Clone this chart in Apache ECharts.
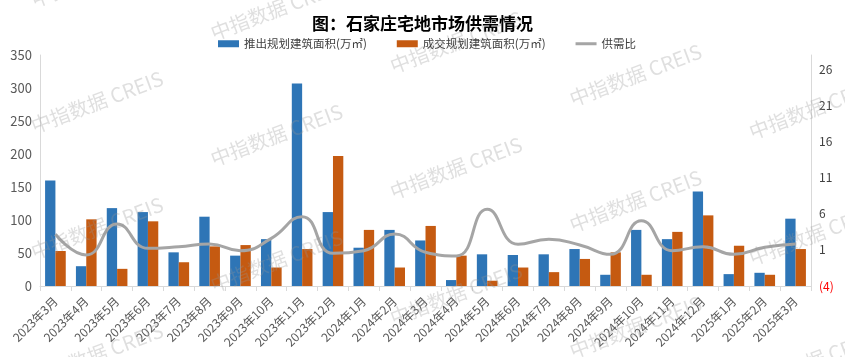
<!DOCTYPE html>
<html>
<head>
<meta charset="utf-8">
<script src="https://cdn.jsdelivr.net/npm/echarts@6/dist/echarts.min.js"></script>
<style>
html,body{margin:0;padding:0;background:#fff;}
#c{width:845px;height:357px;}
</style>
</head>
<body>
<div id="c"></div>
<script>
const categories = ['2023年3月','2023年4月','2023年5月','2023年6月','2023年7月','2023年8月','2023年9月','2023年10月','2023年11月','2023年12月','2024年1月','2024年2月','2024年3月','2024年4月','2024年5月','2024年6月','2024年7月','2024年8月','2024年9月','2024年10月','2024年11月','2024年12月','2025年1月','2025年2月','2025年3月'];
const supply = [160, 30, 118, 112, 51, 105, 46, 71, 307, 112, 58, 85, 69, 9, 48, 47, 48, 56, 17, 85, 71, 143, 18, 20, 102];
const deal = [53, 101, 26, 98, 36, 60, 62, 28, 56, 197, 85, 28, 91, 46, 8, 28, 21, 41, 51, 17, 82, 107, 61, 17, 56];
const ratio = [3.16, 0.29, 4.59, 1.22, 1.44, 1.82, 0.89, 2.6, 5.6, 0.53, 0.89, 3.2, 0.67, 0.16, 6.62, 1.78, 2.47, 1.68, 0.39, 5.04, 0.89, 1.44, 0.39, 1.36, 1.82];
const leftTicks = {min: 0, max: 350, interval: 50};
const rightTicks = {min: -4, max: 28, interval: 5};
const seriesNames = ['推出规划建筑面积(万㎡)', '成交规划建筑面积(万㎡)', '供需比'];
const titleText = '图：石家庄宅地市场供需情况';
const watermarkText = '中指数据 CREIS';

const FONT = '"Noto Sans CJK SC", "Noto Sans", sans-serif';

// watermarks
const marks = [];
for (let c = 0; c < 5; c++) {
  for (let r = -1; r < 3; r++) {
    const x = 97 + 179.5 * c;
    const y = 102 + 33 * c + 126 * r;
    if (y < -40 || y > 400) continue;
    marks.push({
      type: 'text', x: x, y: y, rotation: 0.36, z: 100, silent: true,
      style: {text: watermarkText, fontSize: 20, fontFamily: FONT, fill: 'rgba(150,150,150,0.3)', align: 'center', verticalAlign: 'middle'}
    });
  }
}

const chart = echarts.init(document.getElementById('c'));
chart.setOption({
  animation: false,
  backgroundColor: '#fff',
  textStyle: {fontFamily: FONT},
  title: {
    text: titleText, left: 307, top: 10, z: 200,
    textStyle: {fontSize: 17, fontWeight: 'bold', color: '#000', fontFamily: FONT}
  },
  legend: {
    left: 213, top: 33, itemWidth: 21, itemHeight: 7, itemGap: 30, z: 200, symbolKeepAspect: true,
    textStyle: {fontSize: 11.5, color: '#404040', fontFamily: FONT},
    data: [
      {name: seriesNames[0], icon: 'rect'},
      {name: seriesNames[1], icon: 'rect'},
      {name: seriesNames[2], icon: 'path://M0,0 H21 V3 H0 Z', itemStyle: {color: '#A5A5A5'}}
    ]
  },
  graphic: marks,
  grid: {left: 40, right: 34, top: 55, bottom: 71, containLabel: false},
  xAxis: {
    type: 'category', data: categories,
    axisLine: {lineStyle: {color: '#d9d9d9'}},
    axisTick: {show: true, alignWithLabel: false, length: 5, lineStyle: {color: '#d9d9d9'}},
    axisLabel: {rotate: 45, fontSize: 12, color: '#595959', margin: 13, interval: 0, fontFamily: FONT}
  },
  yAxis: [
    {
      type: 'value', min: leftTicks.min, max: leftTicks.max, interval: leftTicks.interval,
      axisLine: {show: true, lineStyle: {color: '#d9d9d9'}},
      axisTick: {show: false},
      splitLine: {show: false},
      axisLabel: {fontSize: 13, color: '#595959', margin: 8, fontFamily: FONT}
    },
    {
      type: 'value', min: rightTicks.min, max: rightTicks.max, interval: rightTicks.interval,
      axisLine: {show: true, lineStyle: {color: '#d9d9d9'}},
      axisTick: {show: false},
      splitLine: {show: false},
      axisLabel: {
        fontSize: 12, color: '#404040', margin: 8, fontFamily: FONT,
        formatter: function (v) {
          if (Math.abs(((v - rightTicks.min) % rightTicks.interval)) > 1e-6) return '';
          return v < 0 ? '{neg|(' + (-v) + ')}' : String(v);
        },
        rich: {neg: {color: '#FF0000', fontSize: 12, fontFamily: FONT}}
      }
    }
  ],
  series: [
    {name: seriesNames[0], type: 'bar', data: supply, barGap: '0%', barCategoryGap: '33%', itemStyle: {color: '#2E75B6'}},
    {name: seriesNames[1], type: 'bar', data: deal, barGap: '0%', barCategoryGap: '33%', itemStyle: {color: '#C55A11'}},
    {name: seriesNames[2], type: 'line', yAxisIndex: 1, data: ratio, smooth: true, symbol: 'none', showSymbol: false,
      lineStyle: {color: '#A5A5A5', width: 3}, itemStyle: {color: '#A5A5A5'}}
  ]
});
</script>
</body>
</html>
